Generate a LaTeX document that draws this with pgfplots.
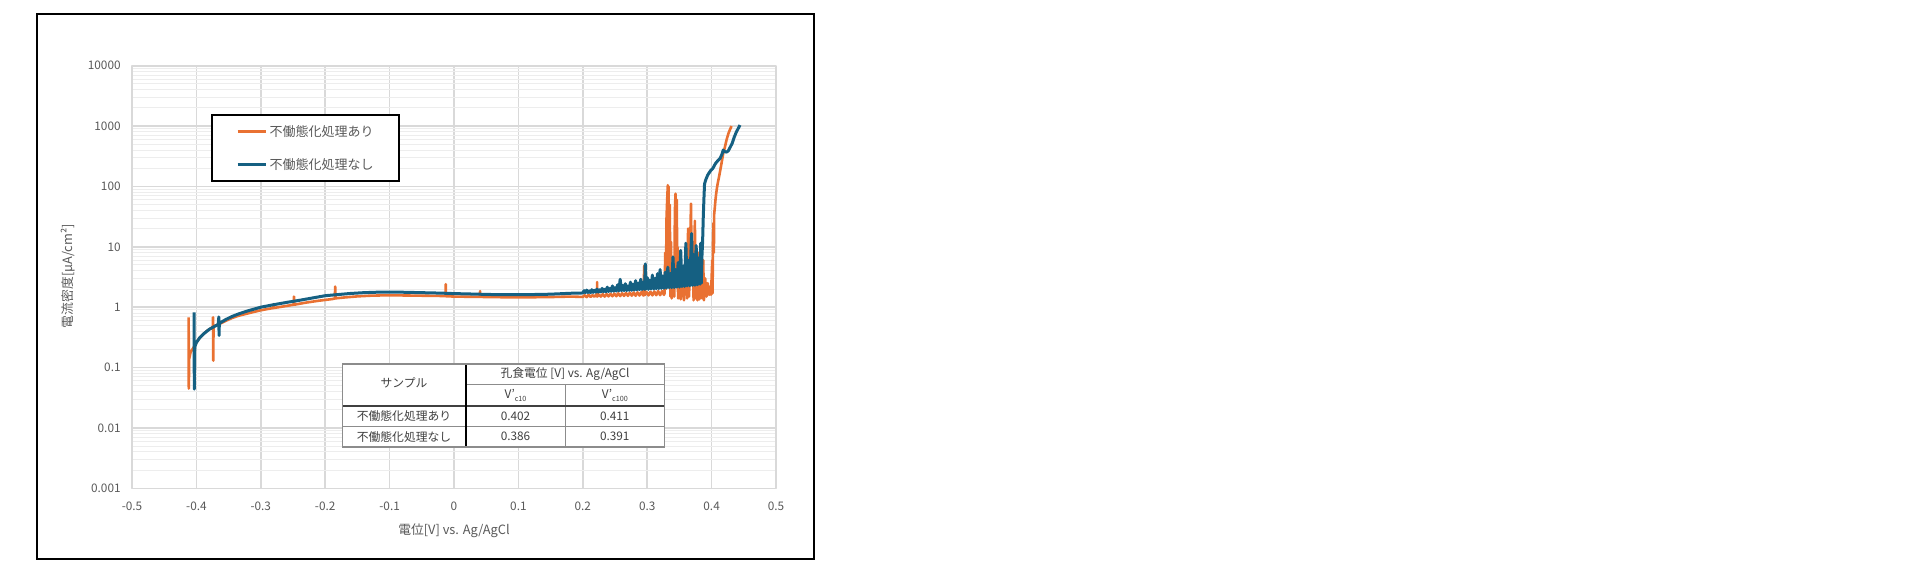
\documentclass[border=0pt]{standalone}
\usepackage{fontspec}
\setmainfont{Noto Sans CJK JP}
\usepackage{pgfplots}
\pgfplotsset{compat=1.18}

\definecolor{seriesA}{HTML}{E97132}
\definecolor{seriesB}{HTML}{156082}
\definecolor{majgrid}{HTML}{D9D9D9}
\definecolor{mingrid}{HTML}{EDEDED}
\definecolor{txt}{HTML}{595959}
\definecolor{tbltxt}{HTML}{404040}
\definecolor{tblline}{HTML}{8C8C8C}

\begin{document}
\begin{tikzpicture}
\path[use as bounding box] (0,0) rectangle (960pt,289.5pt);
% outer frame
\draw[line width=1pt] (18.65pt,10pt) rectangle (407pt,282.5pt);

\begin{axis}[
    at={(66pt,45.35pt)}, anchor=south west,
    scale only axis, width=322pt, height=211.3pt,
    xmin=-0.5, xmax=0.5,
    ymode=log, ymin=0.001, ymax=10000,
    xtick={-0.5,-0.4,-0.3,-0.2,-0.1,0,0.1,0.2,0.3,0.4,0.5},
    xticklabels={-0.5,-0.4,-0.3,-0.2,-0.1,0,0.1,0.2,0.3,0.4,0.5},
    ytick={0.001,0.01,0.1,1,10,100,1000,10000},
    yticklabels={0.001,0.01,0.1,1,10,100,1000,10000},
    minor ytick={0.002,0.003,0.004,0.005,0.006,0.007,0.008,0.009,
                 0.02,0.03,0.04,0.05,0.06,0.07,0.08,0.09,
                 0.2,0.3,0.4,0.5,0.6,0.7,0.8,0.9,
                 2,3,4,5,6,7,8,9,
                 20,30,40,50,60,70,80,90,
                 200,300,400,500,600,700,800,900,
                 2000,3000,4000,5000,6000,7000,8000,9000},
    xmajorgrids, ymajorgrids, yminorgrids,
    major grid style={majgrid, line width=0.8pt},
    minor grid style={mingrid, line width=0.5pt},
    major tick length=0pt, minor tick length=0pt,
    axis line style={majgrid, line width=0.8pt},
    /pgf/number format/assume math mode=true,
    tick label style={font=\fontsize{5.9}{7}\selectfont, text=txt, inner sep=0pt},
    xticklabel style={anchor=center, yshift=-8.85pt},
    yticklabel style={anchor=east, xshift=-5.5pt},
    xlabel={電位[V] vs. Ag/AgCl},
    ylabel={電流密度[μA/cm²]},
    label style={font=\fontsize{6.4}{7.5}\selectfont, text=txt},
    xlabel style={at={(axis description cs:0.5,-0.1003)}, anchor=center},
    ylabel style={at={(axis description cs:-0.0989,0.502)}, anchor=center},
    line join=round,
]

% 不働態化処理あり
\addplot[seriesA, line width=1.3pt, no marks] coordinates {
(-0.4120,0.68) (-0.4118,0.045) (-0.4112,0.14) (-0.4090,0.18) (-0.4050,0.21)
(-0.4000,0.26) (-0.3950,0.31) (-0.3890,0.36) (-0.3830,0.41) (-0.3770,0.45)
(-0.3745,0.47) (-0.3742,0.68) (-0.3738,0.13) (-0.3734,0.48) (-0.3650,0.52)
(-0.3550,0.59) (-0.3450,0.66) (-0.3350,0.72) (-0.3200,0.79) (-0.3000,0.89)
(-0.2805,0.97) (-0.2802,1.12) (-0.2798,0.97) (-0.2600,1.05) (-0.2490,1.10)
(-0.2485,1.50) (-0.2480,1.10) (-0.2300,1.19) (-0.2100,1.28) (-0.1900,1.36)
(-0.1850,1.39) (-0.1845,2.20) (-0.1840,1.40) (-0.1700,1.45) (-0.1500,1.51)
(-0.1300,1.55) (-0.1100,1.57) (-0.0900,1.57) (-0.0700,1.56) (-0.0500,1.55)
(-0.0300,1.54) (-0.0130,1.53) (-0.0128,2.40) (-0.0125,1.52) (0.0000,1.50)
(0.0200,1.49) (0.0400,1.48) (0.0405,1.85) (0.0410,1.48) (0.0600,1.47)
(0.0800,1.46) (0.1000,1.46) (0.1200,1.46) (0.1400,1.47) (0.1600,1.48)
(0.1800,1.50) (0.2000,1.48) (0.2030,1.58) (0.2060,1.47) (0.2090,1.60)
(0.2120,1.48) (0.2150,1.58) (0.2180,1.49) (0.2210,1.62) (0.2220,1.50)
(0.2222,2.60) (0.2225,1.50) (0.2250,1.62) (0.2280,1.50) (0.2310,1.64)
(0.2340,1.50) (0.2370,1.65) (0.2400,1.51) (0.2430,1.66) (0.2460,1.52)
(0.2490,1.68) (0.2520,1.52) (0.2550,1.70) (0.2580,1.53) (0.2610,1.70)
(0.2640,1.54) (0.2670,1.72) (0.2700,1.54) (0.2730,1.74) (0.2760,1.55)
(0.2790,1.75) (0.2820,1.55) (0.2850,1.76) (0.2880,1.56) (0.2910,1.78)
(0.2940,1.56) (0.2955,4.90) (0.2960,1.58) (0.2990,1.78) (0.3020,1.57)
(0.3050,1.80) (0.3080,1.57) (0.3110,1.82) (0.3140,1.58) (0.3170,1.85)
(0.3200,1.58) (0.3230,1.85) (0.3260,1.60)
(0.3270,1.70) (0.3280,8.0) (0.3290,2.0) (0.3300,30) (0.3310,60)
(0.3320,105) (0.3325,20) (0.3330,100) (0.3340,3.0) (0.3350,50)
(0.3360,1.5) (0.3370,12) (0.3380,1.4) (0.3400,2.5) (0.3420,1.5)
(0.3430,40) (0.3440,76) (0.3450,30) (0.3460,60) (0.3465,2.5)
(0.3470,10) (0.3480,1.4) (0.3500,3.0) (0.3520,1.35) (0.3550,4.0)
(0.3570,1.3) (0.3600,6.0) (0.3620,1.4) (0.3635,20) (0.3650,1.5)
(0.3670,15) (0.3680,52) (0.3690,3.0) (0.3710,8.0) (0.3720,1.3)
(0.3740,27) (0.3750,1.4) (0.3770,5.0) (0.3780,1.3) (0.3800,8.0)
(0.3810,1.35) (0.3830,4.0) (0.3850,1.4) (0.3870,6.0) (0.3880,1.3)
(0.3900,3.0) (0.3920,1.5) (0.3940,2.5) (0.3960,1.6) (0.3980,2.2)
(0.3990,1.6) (0.4000,3.0) (0.4010,6.0) (0.4015,1.7) (0.4020,10)
(0.4030,25) (0.4035,8.0) (0.4040,35) (0.4050,45) (0.4060,60)
(0.4070,75) (0.4080,90) (0.4090,105) (0.4100,120) (0.4110,135)
(0.4130,175) (0.4150,230) (0.4180,350) (0.4200,420) (0.4230,580)
(0.4260,750) (0.4290,900) (0.4310,1000)
};

% 不働態化処理なし
\addplot[seriesB, line width=1.5pt, no marks] coordinates {
(-0.4035,0.82) (-0.4033,0.044) (-0.4025,0.22) (-0.4000,0.26) (-0.3950,0.31)
(-0.3890,0.36) (-0.3800,0.43) (-0.3720,0.48) (-0.3660,0.52) (-0.3652,0.69)
(-0.3648,0.34) (-0.3644,0.54) (-0.3550,0.62) (-0.3450,0.70) (-0.3350,0.77)
(-0.3200,0.87) (-0.3000,1.00) (-0.2800,1.10) (-0.2600,1.20) (-0.2400,1.30)
(-0.2200,1.42) (-0.2000,1.55) (-0.1800,1.62) (-0.1600,1.69) (-0.1400,1.74)
(-0.1200,1.77) (-0.1000,1.78) (-0.0800,1.77) (-0.0600,1.75) (-0.0400,1.73)
(-0.0200,1.71) (0.0000,1.68) (0.0200,1.66) (0.0400,1.64) (0.0600,1.62)
(0.0800,1.61) (0.1000,1.61) (0.1200,1.62) (0.1400,1.63) (0.1600,1.66)
(0.1800,1.70) (0.2000,1.72) (0.2020,1.88) (0.2040,1.74) (0.2060,1.92)
(0.2080,1.75) (0.2100,1.86) (0.2120,1.74) (0.2140,1.95) (0.2160,1.76)
(0.2180,1.90) (0.2200,1.77) (0.2220,2.00) (0.2240,1.78) (0.2260,1.94)
(0.2280,1.79) (0.2300,2.05) (0.2320,1.80) (0.2340,1.98) (0.2360,1.80)
(0.2380,2.15) (0.2400,1.82) (0.2420,2.05) (0.2440,1.83) (0.2460,2.25)
(0.2480,1.84) (0.2500,2.10) (0.2520,1.85) (0.2540,2.35) (0.2560,1.86)
(0.2580,2.90) (0.2600,1.87) (0.2620,2.30) (0.2640,1.88) (0.2660,2.45)
(0.2680,1.88) (0.2700,2.25) (0.2720,1.90) (0.2740,2.60) (0.2760,1.90)
(0.2780,2.40) (0.2800,1.92) (0.2820,2.75) (0.2840,1.93) (0.2860,2.50)
(0.2880,1.95) (0.2900,2.90) (0.2920,1.96) (0.2940,2.60) (0.2960,1.98)
(0.2970,5.20) (0.2980,2.00) (0.3000,3.10) (0.3020,1.98) (0.3040,2.80)
(0.3060,2.00) (0.3080,3.40) (0.3100,2.00) (0.3120,3.00) (0.3140,2.02)
(0.3160,3.60) (0.3180,2.03) (0.3200,4.20) (0.3220,2.05) (0.3240,3.30)
(0.3260,2.05) (0.3280,3.80) (0.3300,2.08) (0.3320,4.60) (0.3340,2.10)
(0.3360,3.60) (0.3380,2.10) (0.3400,6.80) (0.3420,2.12) (0.3440,4.20)
(0.3460,2.15) (0.3480,5.50) (0.3500,2.15) (0.3520,8.70) (0.3540,2.20)
(0.3560,4.80) (0.3580,2.20) (0.3600,11.5) (0.3620,2.25) (0.3640,6.00)
(0.3660,2.25) (0.3680,9.00) (0.3690,16.6) (0.3700,2.30) (0.3720,7.50)
(0.3740,2.30) (0.3760,10.5) (0.3780,2.35) (0.3800,6.50) (0.3820,2.40)
(0.3830,11.5) (0.3840,2.50) (0.3850,7.00)
(0.3860,12) (0.3870,30) (0.3880,60) (0.3890,110) (0.3910,130)
(0.3940,155) (0.3980,180) (0.4020,200) (0.4060,240) (0.4100,270)
(0.4130,290) (0.4160,340) (0.4180,400) (0.4200,380) (0.4230,370)
(0.4260,390) (0.4290,450) (0.4320,520) (0.4350,650) (0.4380,780)
(0.4410,900) (0.4440,1040)
};
\end{axis}

% legend
\draw[line width=1.1pt, fill=white] (106.15pt,199pt) rectangle (199.65pt,232pt);
\draw[seriesA, line width=1.3pt] (118.85pt,223.65pt) -- (133pt,223.65pt);
\node[anchor=west, inner sep=0pt, font=\fontsize{6.5}{7.5}\selectfont, text=txt]
  at (134.65pt,223.65pt) {不働態化処理あり};
\draw[seriesB, line width=1.5pt] (118.85pt,207pt) -- (133pt,207pt);
\node[anchor=west, inner sep=0pt, font=\fontsize{6.5}{7.5}\selectfont, text=txt]
  at (134.65pt,207pt) {不働態化処理なし};

% table of pitting potentials
\fill[white] (171.15pt,66.15pt) rectangle (332.15pt,107.5pt);
\draw[tblline, line width=0.5pt] (232.85pt,97.35pt) -- (332.15pt,97.35pt);
\draw[tblline, line width=0.5pt] (282.65pt,97.35pt) -- (282.65pt,66.15pt);
\draw[tblline, line width=0.5pt] (171.15pt,76.15pt) -- (332.15pt,76.15pt);
\draw[darkgray, line width=0.9pt] (171.15pt,86.5pt) -- (332.15pt,86.5pt);
\draw[black, line width=0.9pt] (232.85pt,107.5pt) -- (232.85pt,66.15pt);
\draw[tblline, line width=0.8pt] (171.15pt,66.15pt) rectangle (332.15pt,107.5pt);
\begin{scope}[every node/.style={inner sep=0pt, text=tbltxt, font=\fontsize{5.9}{7}\selectfont}]
\node at (202pt,97.85pt) {サンプル};
\node at (282.5pt,102.5pt) {孔食電位 [V] vs. Ag/AgCl};
\node at (257.75pt,91.75pt) {V'\raisebox{-0.4ex}{\fontsize{3.6}{4}\selectfont c10}};
\node at (307.4pt,91.75pt) {V'\raisebox{-0.4ex}{\fontsize{3.6}{4}\selectfont c100}};
\node at (202pt,81.35pt) {不働態化処理あり};
\node at (257.75pt,81.35pt) {0.402};
\node at (307.4pt,81.35pt) {0.411};
\node at (202pt,71.15pt) {不働態化処理なし};
\node at (257.75pt,71.15pt) {0.386};
\node at (307.4pt,71.15pt) {0.391};
\end{scope}
\end{tikzpicture}
\end{document}
